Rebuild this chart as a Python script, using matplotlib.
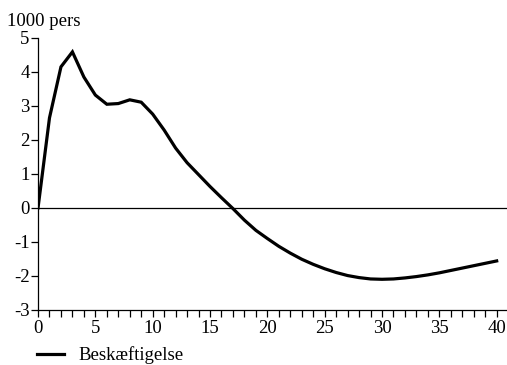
import matplotlib
matplotlib.use("Agg")
import matplotlib.pyplot as plt
from matplotlib.ticker import MultipleLocator

plt.rcParams['font.family'] = ['Liberation Serif', 'DejaVu Serif']
plt.rcParams['axes.unicode_minus'] = False

# years after the shock
years = list(range(0, 41))
# employment effect, 1000 persons
beskaeftigelse = [0.0, 2.65, 4.15, 4.59, 3.85, 3.32, 3.05, 3.07, 3.18, 3.11,
                  2.76, 2.29, 1.76, 1.33, 0.98, 0.63, 0.30, -0.02, -0.36, -0.66,
                  -0.90, -1.13, -1.33, -1.51, -1.66, -1.79, -1.90, -1.99, -2.05, -2.09,
                  -2.10, -2.09, -2.06, -2.02, -1.97, -1.91, -1.84, -1.77, -1.70, -1.63,
                  -1.56]
serie_navn = 'Beskæftigelse'
enhed = '1000 pers'

fig = plt.figure(figsize=(5.07, 3.65), dpi=100)
ax = fig.add_axes([0.075, 0.151, 0.925, 0.745])

ax.plot(years, beskaeftigelse, color='black', lw=2.3, label=serie_navn,
        solid_joinstyle='miter')
ax.axhline(0, color='black', lw=0.9)

ax.set_xlim(0, 40.9)
ax.set_ylim(-3, 5)
ax.xaxis.set_major_locator(MultipleLocator(5))
ax.xaxis.set_minor_locator(MultipleLocator(1))
ax.yaxis.set_major_locator(MultipleLocator(1))

for s in ['top', 'right']:
    ax.spines[s].set_visible(False)
for s in ['left', 'bottom']:
    ax.spines[s].set_linewidth(0.9)
ax.spines['left'].set_bounds(-3, 5)

ax.tick_params(axis='both', which='both', direction='out', length=5,
               width=0.9, labelsize=13.5, pad=2)
ax.tick_params(axis='y', pad=1)

# unit label above the y axis
fig.text(7 / 507, 1 - 26 / 365, enhed, ha='left', va='baseline', fontsize=13.5)

ax.legend(loc='upper left', bbox_to_anchor=(-0.002, -0.135), frameon=False,
          fontsize=13.5, handlelength=1.45, handletextpad=0.75, borderaxespad=0,
          borderpad=0)

fig.savefig('out.png', dpi=100)
